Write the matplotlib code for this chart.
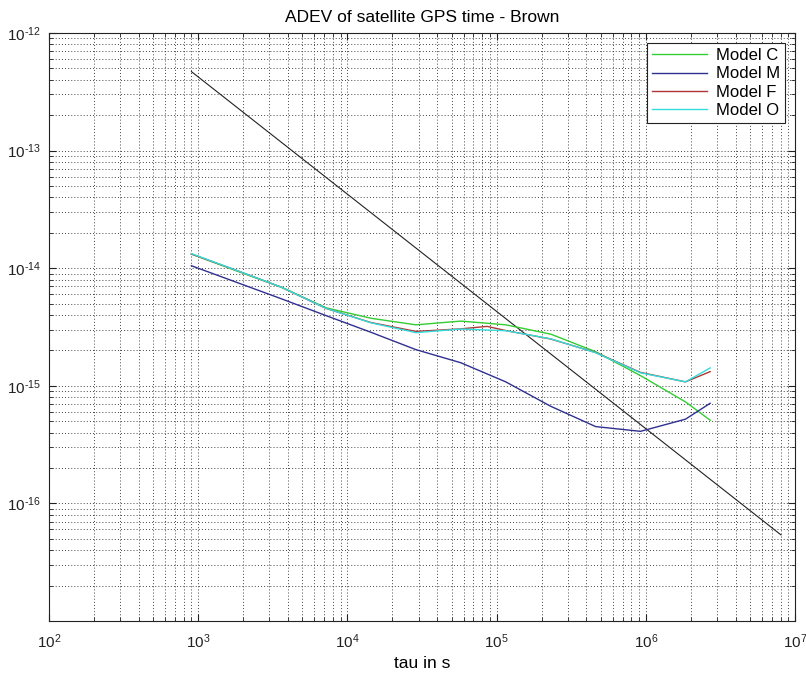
import numpy as np
import matplotlib
matplotlib.use('Agg')
import matplotlib.pyplot as plt
from matplotlib.ticker import LogLocator, NullFormatter, FuncFormatter

plt.rcParams['font.family'] = ['Liberation Sans', 'DejaVu Sans']
plt.rcParams['mathtext.fontset'] = 'custom'
plt.rcParams['mathtext.rm'] = 'Liberation Sans'
plt.rcParams['mathtext.it'] = 'Liberation Sans'

# averaging times (s)
tau = [900, 1800, 3600, 7200, 14400, 28800, 57600, 115200, 230400,
       460800, 921600, 1843200, 2700000]

model_c = [1.32e-14, 9.5e-15, 6.9e-15, 4.6e-15, 3.75e-15, 3.3e-15, 3.55e-15,
           3.3e-15, 2.75e-15, 1.95e-15, 1.22e-15, 7.3e-16, 5.1e-16]
model_m = [1.05e-14, 7.6e-15, 5.5e-15, 3.95e-15, 2.85e-15, 2.03e-15, 1.57e-15,
           1.08e-15, 6.7e-16, 4.5e-16, 4.1e-16, 5.2e-16, 7.1e-16]
tau_f = [900, 1800, 3600, 7200, 14400, 28800, 57600, 86400, 115200, 230400,
         460800, 921600, 1843200, 2700000]
model_f = [1.32e-14, 9.6e-15, 6.9e-15, 4.55e-15, 3.45e-15, 2.9e-15, 3.05e-15,
           3.2e-15, 2.95e-15, 2.5e-15, 1.92e-15, 1.3e-15, 1.08e-15, 1.32e-15]
model_o = [1.33e-14, 9.6e-15, 6.9e-15, 4.55e-15, 3.43e-15, 2.83e-15, 3.04e-15,
           2.94e-15, 2.51e-15, 1.91e-15, 1.29e-15, 1.08e-15, 1.42e-15]

# reference slope line
tau_ref = [900, 8.05e6]
adev_ref = [4.7e-13, 5.4e-17]


# matlab style labels: 10 with a short hyphen in the exponent
def pow_label(v, pos):
    e = int(round(np.log10(v)))
    if e < 0:
        return r'$\mathregular{10^{\text{-%d}}}$' % (-e)
    return r'$\mathregular{10^{%d}}$' % e


fig = plt.figure(figsize=(8.06, 6.75), dpi=100)
ax = fig.add_axes([49 / 806, 54 / 675, 746 / 806, 588 / 675])

ax.loglog(tau_ref, adev_ref, color='#222222', linewidth=0.8)
ax.loglog(tau, model_c, color='#33cc33', linewidth=1.0, label='Model C')
ax.loglog(tau, model_m, color='#303090', linewidth=1.0, label='Model M')
ax.loglog(tau_f, model_f, color='#b03535', linewidth=1.0, label='Model F')
ax.loglog(tau, model_o, color='#33dddd', linewidth=1.0, label='Model O')

ax.set_xlim(1e2, 1e7)
ax.set_ylim(1e-17, 1e-12)
ax.set_xticks([1e2, 1e3, 1e4, 1e5, 1e6, 1e7])
ax.set_yticks([1e-16, 1e-15, 1e-14, 1e-13, 1e-12])
ax.xaxis.set_major_formatter(FuncFormatter(pow_label))
ax.yaxis.set_major_formatter(FuncFormatter(pow_label))
ax.xaxis.set_minor_locator(LogLocator(base=10, subs=np.arange(2, 10)))
ax.yaxis.set_minor_locator(LogLocator(base=10, subs=np.arange(2, 10), numticks=20))
ax.xaxis.set_minor_formatter(NullFormatter())
ax.yaxis.set_minor_formatter(NullFormatter())

ax.grid(True, which='both', linestyle=(0, (1, 2.2)), color='#444444',
        linewidth=0.7)
ax.tick_params(which='both', direction='in', top=True, right=True,
               labelsize=11, colors='#222222')
ax.tick_params(which='major', length=5, pad=6)
ax.tick_params(axis='x', which='major', pad=8)
ax.tick_params(which='minor', length=3)
for s in ax.spines.values():
    s.set_color('#222222')
    s.set_linewidth(0.8)

ax.set_title('ADEV of satellite GPS time - Brown', fontsize=12.5, pad=8)
ax.set_xlabel('tau in s', fontsize=12.5, labelpad=4)

leg = ax.legend(loc='upper right', fontsize=12, fancybox=False,
                edgecolor='#222222', framealpha=1, handlelength=3.3,
                handletextpad=0.55, borderaxespad=0.6, labelspacing=0.2,
                borderpad=0.3)
leg.get_frame().set_linewidth(0.8)

fig.savefig('out.png', dpi=100)
